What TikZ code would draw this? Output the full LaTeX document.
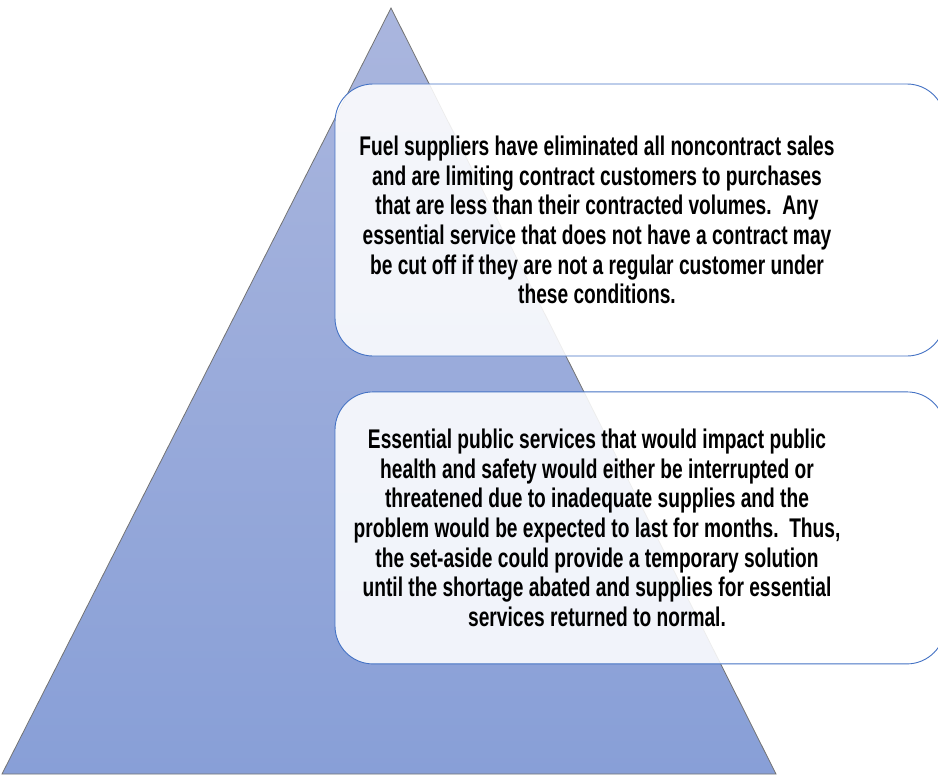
\documentclass[tikz,border=0pt]{standalone}
\usepackage{fontspec}
\setmainfont[FakeStretch=0.71]{Liberation Sans}
\usepackage{tikz}
\usetikzlibrary{positioning,shadings}
\usepackage{xcolor}
\definecolor{PyramidTop}{RGB}{170,182,222}
\definecolor{PyramidBottom}{RGB}{136,159,215}
\definecolor{TierBlue}{RGB}{68,114,196}

\begin{document}
\begin{tikzpicture}[x=1pt,y=-1pt,
  tier/.style={draw=TierBlue, line width=0.9pt, rounded corners=38pt, fill=white, fill opacity=0.88,
               minimum width=610pt, minimum height=272pt, inner sep=0pt},
  tiertext/.style={align=center, inner sep=0pt, font=\fontsize{27}{29.7}\selectfont\bfseries}]
\useasboundingbox (0,0) rectangle (938,776);
\clip (0,0) rectangle (938,776);
%
% pyramid
\coordinate (apex) at (391,8);
\coordinate (baseL) at (2,774);
\coordinate (baseR) at (776,774);
\shade[top color=PyramidTop, bottom color=PyramidBottom] (apex) -- (baseR) -- (baseL) -- cycle;
\draw[gray!90!black, line width=0.8pt] (apex) -- (baseR) -- (baseL) -- cycle;
%
% tiers
\node[tier] (supply) at (640,220) {};
\node[tier, below=35pt of supply] (service) {};
%
\node[tiertext] (supplytext) at ([xshift=-43pt]supply.center) {Fuel suppliers have eliminated all noncontract sales\\
and are limiting contract customers to purchases\\
that are less than their contracted volumes.\ \ Any\\
essential service that does not have a contract may\\
be cut off if they are not a regular customer under\\
these conditions.};
\node[tiertext] (servicetext) at ([xshift=-43pt]service.center) {Essential public services that would impact public\\
health and safety would either be interrupted or\\
threatened due to inadequate supplies and the\\
problem would be expected to last for months.\ \ Thus,\\
the set-aside could provide a temporary solution\\
until the shortage abated and supplies for essential\\
services returned to normal.};
%
\end{tikzpicture}
\end{document}
